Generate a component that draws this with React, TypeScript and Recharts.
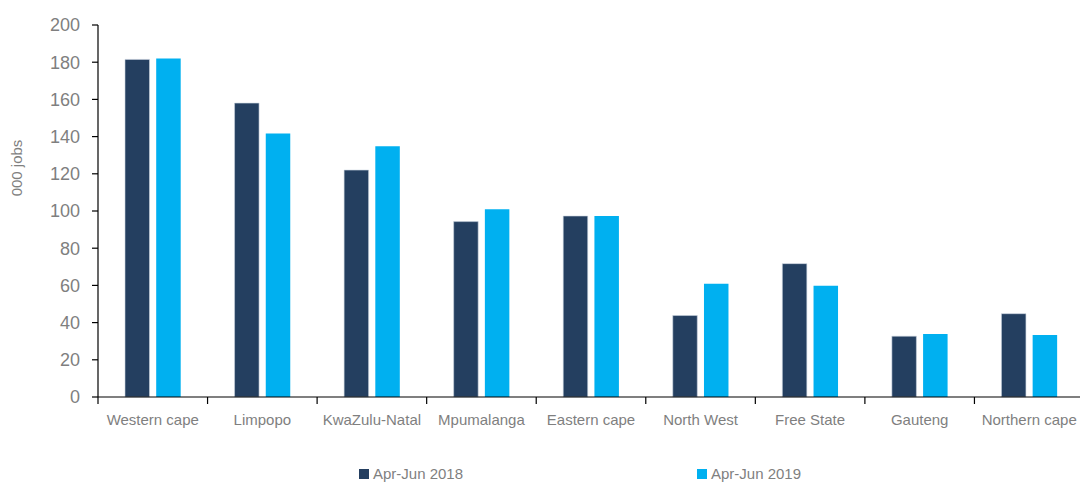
import React from 'react';
import { BarChart, Bar, XAxis, YAxis, Legend } from 'recharts';

const categories = ['Western cape', 'Limpopo', 'KwaZulu-Natal', 'Mpumalanga', 'Eastern cape', 'North West', 'Free State', 'Gauteng', 'Northern cape'];
const apr2018 = [181.5, 158, 122, 94.3, 97.3, 43.8, 71.7, 32.7, 44.8];
const apr2019 = [182, 141.6, 134.8, 100.9, 97.3, 60.9, 59.8, 33.9, 33.3];
const yTicks = [0, 20, 40, 60, 80, 100, 120, 140, 160, 180, 200];
const seriesNames = ['Apr-Jun 2018', 'Apr-Jun 2019'];

const data = categories.map((c, i) => ({ name: c, a: apr2018[i], b: apr2019[i] }));

const FONT = '"Liberation Sans", Arial, sans-serif';
const GREY = '#7f7f7f';
const DARK = '#243f60';
const LIGHT = '#00b0f0';

const XTick = (props: any) => {
  const { x, y, payload } = props;
  const off = payload.offset || 0;
  return (
    <g>
      <line x1={x - off} x2={x - off} y1={y - 8} y2={y - 1} stroke="#000" strokeWidth={1.2} />
      <text x={x} y={y + 19.5} textAnchor="middle" fill={GREY} fontSize={15} fontFamily={FONT}>
        {payload.value}
      </text>
    </g>
  );
};

const LegendContent = (props: any) => {
  const { payload } = props;
  const lefts = [359, 697];
  return (
    <div style={{ position: 'relative', width: 1080, height: 55 }}>
      {(payload || []).map((p: any, i: number) => (
        <div key={i} style={{ position: 'absolute', left: lefts[i], top: 39, display: 'flex', alignItems: 'center', fontFamily: FONT, fontSize: 15, color: GREY, lineHeight: '15px', whiteSpace: 'nowrap' }}>
          <span style={{ display: 'inline-block', width: 10, height: 10, background: p.color, marginRight: 4 }} />
          <span>{p.value}</span>
        </div>
      ))}
    </div>
  );
};

export default function App() {
  return (
    <div style={{ width: 1080, height: 482, overflow: 'hidden', position: 'relative' }}>
      <style>{'html,body{margin:0;padding:0;overflow:hidden;}'}</style>
      <BarChart width={1084} height={482} data={data} margin={{ top: 25, right: 0, bottom: 0, left: 8 }} barSize={24.5} barGap={6.7}>
        <XAxis dataKey="name" height={30} axisLine={{ stroke: '#000', strokeWidth: 1.2 }} tickLine={false} tick={<XTick />} interval={0} />
        <YAxis
          width={90}
          domain={[0, 200]}
          ticks={yTicks}
          interval={0}
          axisLine={{ stroke: '#000', strokeWidth: 1.2 }}
          tickLine={{ stroke: '#000', strokeWidth: 1.2 }}
          tickSize={6}
          tickMargin={12}
          tick={{ fill: GREY, fontSize: 18, fontFamily: FONT }}
          label={{
            content: () => (
              <text x={22} y={168} transform="rotate(-90 22 168)" textAnchor="middle" fill={GREY} fontSize={15} fontFamily={FONT}>
                000 jobs
              </text>
            ),
          }}
        />
        <Legend verticalAlign="bottom" content={<LegendContent />} wrapperStyle={{ left: 0, width: 1080, height: 55 }} />
        <Bar dataKey="a" name={seriesNames[0]} fill={DARK} stroke="#c9d3df" strokeWidth={0.6} isAnimationActive={false} />
        <Bar dataKey="b" name={seriesNames[1]} fill={LIGHT} isAnimationActive={false} />
      </BarChart>
    </div>
  );
}
